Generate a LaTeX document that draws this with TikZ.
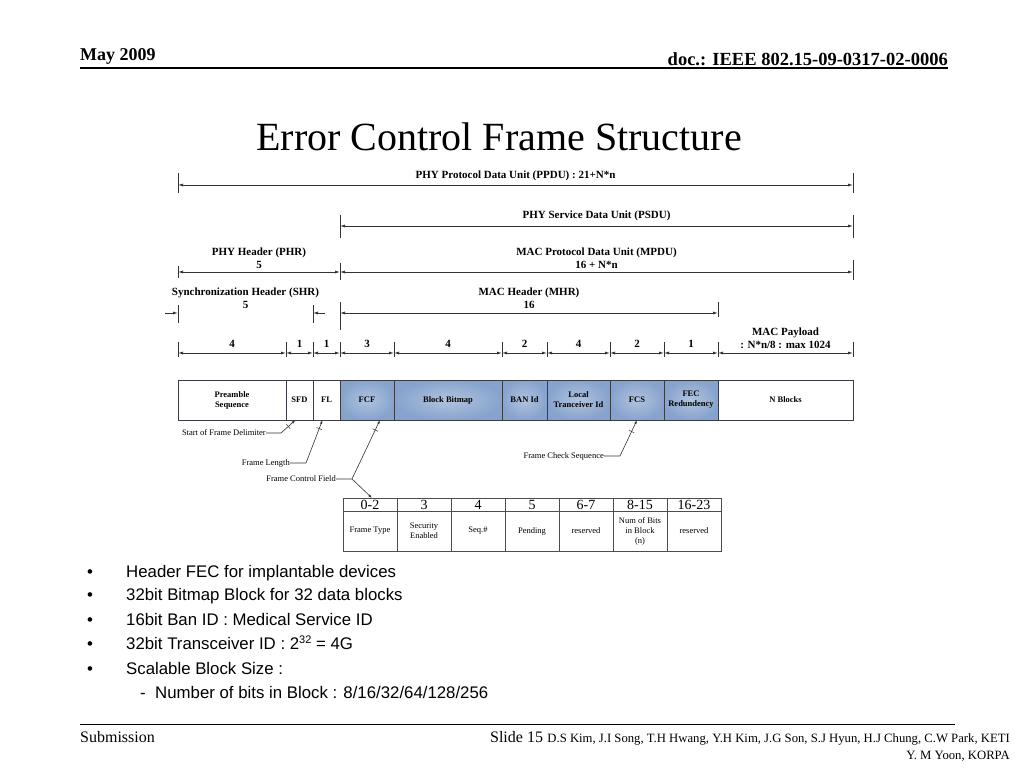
\documentclass[tikz,border=0pt]{standalone}
\usepackage{fontspec}
\setmainfont{Liberation Serif}
\newfontfamily\bulletfont{Liberation Sans}
\usepackage{tikz}
\usetikzlibrary{arrows.meta,positioning}
\definecolor{fieldblue}{RGB}{135,163,205}
\definecolor{edgegray}{RGB}{55,60,70}
\newcommand{\fsz}[2]{\fontsize{#1}{#2}\selectfont}

\begin{document}
\begin{tikzpicture}[
  x=1pt, y=-1pt,
  dimline/.style={{Latex[length=5pt,width=3pt]}-{Latex[length=5pt,width=3pt]}, line width=0.75pt, draw=black!80},
  halfdim/.style={-{Latex[length=5pt,width=3pt]}, line width=0.75pt, draw=black!80},
  tickline/.style={line width=0.75pt, draw=black!80},
  dimlabel/.style={font=\bfseries\fsz{11}{13}, align=center, inner sep=1pt},
  field/.style={draw=edgegray, line width=0.9pt, minimum height=40pt, inner sep=0pt, outer sep=0pt, align=center, font=\bfseries\fsz{8.5}{10}},
  macfield/.style={field, shading=radial, inner color=fieldblue!65!white, outer color=fieldblue},
  note/.style={font=\fsz{8.5}{10}, inner sep=0pt, anchor=east},
  leader/.style={-{Latex[length=4pt,width=2.5pt]}, line width=0.6pt, draw=black!80},
  cut/.style={draw, sloped, inner sep=0pt, minimum width=0pt, minimum height=6pt, line width=0.5pt},
  cell/.style={draw=black!70, line width=0.6pt, minimum width=54pt, inner sep=0pt, outer sep=0pt, align=center},
  bullet/.style={font=\bulletfont\fsz{16.8}{19}, anchor=base west, inner sep=0pt}
]
\useasboundingbox (0,0) rectangle (1024,768);
\fill[white] (0,0) rectangle (1024,768);

% slide header and footer
\node[anchor=base west, inner sep=0pt, font=\bfseries\fsz{18}{20}] (date) at (80,60) {May 2009};
\node[anchor=base east, inner sep=0pt, font=\bfseries\fsz{18.5}{20}] (docid) at (948,66) {doc.: IEEE 802.15-09-0317-02-0006};
\draw[line width=1.5pt] (80,68) -- (948,68);
\node[font=\fsz{40}{44}] (title) at (499,137) {Error Control Frame Structure};
\draw[line width=1pt] (80,724) -- (955,724);
\node[anchor=base west, inner sep=0pt, font=\fsz{16}{18}] (subm) at (80,742) {Submission};
\node[anchor=base east, inner sep=0pt, font=\fsz{12.7}{14}] (authors) at (1010,742) {D.S Kim, J.I Song, T.H Hwang, Y.H Kim, J.G Son, S.J Hyun, H.J Chung, C.W Park, KETI};
\node[inner sep=0pt, font=\fsz{16}{18}, left=4pt of authors.base west, anchor=base east] (slide) {Slide 15};
\node[anchor=base east, inner sep=0pt, font=\fsz{12.7}{14}] (authors2) at (1010,759) {Y. M Yoon, KORPA};

% field boxes
\node[field, minimum width=108pt, anchor=north west] (pre) at (178,380) {Preamble\\Sequence};
\node[field, minimum width=27pt, right=0pt of pre] (sfd) {SFD};
\node[field, minimum width=27pt, right=0pt of sfd] (fl) {FL};
\node[macfield, minimum width=54pt, right=0pt of fl] (fcf) {FCF};
\node[macfield, minimum width=108pt, right=0pt of fcf] (bitmap) {Block Bitmap};
\node[macfield, minimum width=45pt, right=0pt of bitmap] (banid) {BAN Id};
\node[macfield, minimum width=63pt, right=0pt of banid] (localid) {Local\\Tranceiver Id};
\node[macfield, minimum width=54pt, right=0pt of localid] (fcs) {FCS};
\node[macfield, minimum width=54pt, right=0pt of fcs] (fec) {FEC\\Redundency};
\node[field, minimum width=135pt, right=0pt of fec] (nblocks) {N Blocks};

% dimension lines
\coordinate (p0) at (178,185); \coordinate (p1) at (853,185);
\coordinate (s0) at (340,226); \coordinate (s1) at (853,226);
\coordinate (h0) at (178,272); \coordinate (m0) at (340,272); \coordinate (m1) at (853,272);
\coordinate (r0) at (178,313); \coordinate (r1) at (313,313);
\coordinate (c0) at (340,313); \coordinate (c1) at (718,313);
\foreach \n/\x in {b0/178, b1/286, b2/313, b3/340, b4/394, b5/502, b6/547, b7/610, b8/664, b9/718, b10/853}
  \coordinate (\n) at (\x,353);

\foreach \c/\u/\d in {p0/12/8, p1/12/8, s0/11/12, s1/11/12, h0/6/6, m0/9/8, m1/12/8, r0/8/10, r1/8/10, c0/11/17, c1/11/4}
  \draw[tickline] ([yshift=\u pt]\c) -- ([yshift=-\d pt]\c);
\foreach \n in {b0,b1,b2,b3,b4,b5,b6,b7,b8,b9,b10}
  \draw[tickline] ([yshift=11pt]\n) -- ([yshift=-4pt]\n);

\draw[dimline] (p0) -- node[dimlabel, above=3pt] {PHY Protocol Data Unit (PPDU) : 21+N*n} (p1);
\draw[dimline] (s0) -- node[dimlabel, above=4pt] {PHY Service Data Unit (PSDU)} (s1);
\draw[dimline] (h0) -- node[dimlabel, above=2pt] {PHY Header (PHR)\\5} (m0);
\draw[dimline] (m0) -- node[dimlabel, above=2pt] {MAC Protocol Data Unit (MPDU)\\16 + N*n} (m1);
\draw[dimline] (c0) -- node[dimlabel, above=3pt] {MAC Header (MHR)\\16} (c1);
\path (r0) -- node[dimlabel, above=3pt] {Synchronization Header (SHR)\\5} (r1);
\draw[halfdim] ([xshift=-13pt]r0) -- (r0);
\draw[halfdim] ([xshift=12pt]r1) -- (r1);

\foreach \a/\b/\t in {b0/b1/4, b1/b2/1, b2/b3/1, b3/b4/3, b4/b5/4, b5/b6/2, b6/b7/4, b7/b8/2, b8/b9/1}
  \draw[dimline] (\a) -- node[dimlabel, above=4pt] {\t} (\b);
\draw[dimline] (b9) -- node[dimlabel, above=3pt] {MAC Payload\\: N*n/8 : max 1024} (b10);

% frame control field table
\foreach \i/\h/\b in {0/0-2/Frame Type, 1/3/Security\\Enabled, 2/4/Seq.\#, 3/5/Pending, 4/6-7/reserved, 5/8-15/Num of Bits\\in Block\\(n), 6/16-23/reserved} {
  \node[cell, minimum height=13pt, font=\fsz{14}{14}, anchor=north west] (h\i) at (343+54*\i,498) {\h};
  \node[cell, minimum height=40pt, font=\fsz{8.5}{10}, below=0pt of h\i] (c\i) {\b};
}

% leaders
\node[note] (sfdnote) at (266,433) {Start of Frame Delimiter};
\coordinate (sfdbend) at (281,433);
\draw[leader] (sfdnote.east) -- (sfdbend) -- node[cut, pos=0.5] {} ([xshift=-4pt]sfd.south);
\node[note] (flnote) at (290,463) {Frame Length};
\coordinate (flbend) at (306,463);
\draw[leader] (flnote.east) -- (flbend) -- node[cut, pos=0.8] {} ([xshift=-4pt]fl.south);
\node[note] (fcfnote) at (336,479) {Frame Control Field};
\coordinate (fcfbend) at (352,479);
\draw[leader] (fcfnote.east) -- (fcfbend) -- node[cut, pos=0.83] {} ([xshift=13pt]fcf.south);
\draw[leader] (fcfbend) -- ([xshift=2pt]h0.north);
\node[note] (fcsnote) at (604,456) {Frame Check Sequence};
\coordinate (fcsbend) at (620,456);
\draw[leader] (fcsnote.east) -- (fcsbend) -- node[cut, pos=0.68] {} (fcs.south);

% bullet list
\foreach \y/\t [count=\k] in {577/Header FEC for implantable devices, 600/32bit Bitmap Block for 32 data blocks, 625/16bit Ban ID : Medical Service ID, 649/{32bit Transceiver ID : 2{\fsz{11}{11}\raisebox{6pt}{32}} = 4G}, 674/Scalable Block Size :} {
  \node[bullet] (dot\k) at (87,\y) {\textbullet};
  \node[bullet] (item\k) at (126,\y) {\t};
}
\node[bullet] (subdash) at (140,698) {-};
\node[bullet] (subitem) at (155,698) {Number of bits in Block : 8/16/32/64/128/256};
\end{tikzpicture}
\end{document}
